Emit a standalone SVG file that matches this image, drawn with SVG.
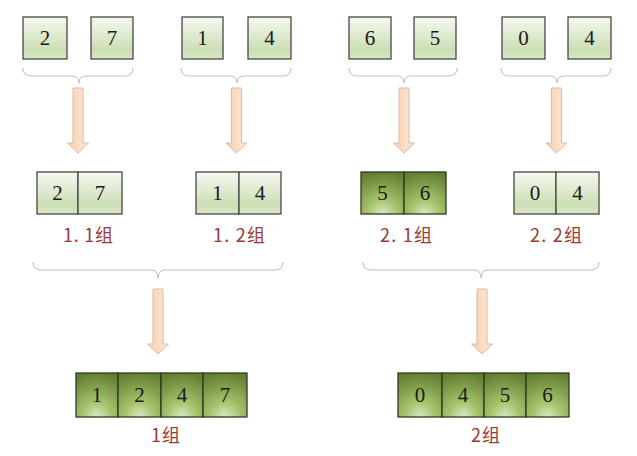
<svg xmlns="http://www.w3.org/2000/svg" width="637" height="456" viewBox="0 0 637 456">
<defs>
<linearGradient id="lg" x1="0" y1="0" x2="0" y2="1">
<stop offset="0" stop-color="#F6F9F1"/>
<stop offset="0.78" stop-color="#CCDEB4"/>
<stop offset="1" stop-color="#D9E7C6"/>
</linearGradient>
<radialGradient id="dg" cx="0.5" cy="1" r="1" fx="0.5" fy="1">
<stop offset="0" stop-color="#DCE8C6"/>
<stop offset="0.35" stop-color="#A6C36C"/>
<stop offset="1" stop-color="#637F32"/>
</radialGradient>
<linearGradient id="ag" x1="0" y1="0" x2="1" y2="0">
<stop offset="0" stop-color="#FBCFAE"/>
<stop offset="1" stop-color="#FFE8D8"/>
</linearGradient>
</defs>
<style>
.l{fill:url(#lg);stroke:#474747;stroke-width:1.3}
.d{fill:url(#dg);stroke:#2f3a22;stroke-width:1.3}
.n{font-family:"Liberation Serif","DejaVu Serif",serif;font-size:21px;fill:#1a1a1a;text-anchor:middle}
.t{font-family:"Noto Sans CJK SC","Noto Sans",sans-serif;font-size:18px;fill:#9B3A33;text-anchor:middle}
.b{fill:none;stroke:#BDBDBD;stroke-width:1}
.a{fill:url(#ag);stroke:#D7BBA8;stroke-width:1}
</style>
<g id="connectors">
<path class="b" d="M23,68 Q23,76 31,76 L72,76 Q79,76 79,83 Q79,76 86,76 L125,76 Q133,76 133,68"/>
<path class="b" d="M181,68 Q181,76 189,76 L230,76 Q237,76 237,83 Q237,76 244,76 L283,76 Q291,76 291,68"/>
<path class="b" d="M349,68 Q349,76 357,76 L397,76 Q404,76 404,83 Q404,76 411,76 L449,76 Q457,76 457,68"/>
<path class="b" d="M501,68 Q501,76 509,76 L550,76 Q557,76 557,83 Q557,76 564,76 L603,76 Q611,76 611,68"/>
<path class="b" d="M33,262 Q33,270 41,270 L151,270 Q158,270 158,278 Q158,270 165,270 L275,270 Q283,270 283,262"/>
<path class="b" d="M363,262 Q363,270 371,270 L474,270 Q481,270 481,278 Q481,270 488,270 L591,270 Q599,270 599,262"/>
<path class="a" d="M73,88 H83 V143 H88.5 L78,153 L67.5,143 H73 Z"/>
<path class="a" d="M231.5,88 H241.5 V143 H247 L236.5,153 L226,143 H231.5 Z"/>
<path class="a" d="M399,88 H409 V143 H414.5 L404,153 L393.5,143 H399 Z"/>
<path class="a" d="M551.5,88 H561.5 V143 H567 L556.5,153 L546,143 H551.5 Z"/>
<path class="a" d="M153,289 H163 V344 H168.5 L158,354 L147.5,344 H153 Z"/>
<path class="a" d="M477,289 H487 V344 H492.5 L482,354 L471.5,344 H477 Z"/>
</g>
<g id="n2"><rect class="l" x="23" y="17" width="44" height="42"/><text class="n" x="45" y="45">2</text></g>
<g id="n7"><rect class="l" x="91" y="17" width="42" height="42"/><text class="n" x="112" y="45">7</text></g>
<g id="n1"><rect class="l" x="182" y="17" width="41" height="42"/><text class="n" x="202.5" y="45">1</text></g>
<g id="n4a"><rect class="l" x="248" y="17" width="43" height="42"/><text class="n" x="269.5" y="45">4</text></g>
<g id="n6"><rect class="l" x="349" y="17" width="42" height="42"/><text class="n" x="370" y="45">6</text></g>
<g id="n5"><rect class="l" x="414" y="17" width="42" height="42"/><text class="n" x="435" y="45">5</text></g>
<g id="n0"><rect class="l" x="502" y="17" width="43" height="42"/><text class="n" x="523.5" y="45">0</text></g>
<g id="n4b"><rect class="l" x="568" y="17" width="43" height="42"/><text class="n" x="589.5" y="45">4</text></g>
<g id="g11">
<rect class="l" x="37" y="172" width="41" height="42"/><rect class="l" x="78" y="172" width="44" height="42"/>
<text class="n" x="57.5" y="200">2</text><text class="n" x="100" y="200">7</text>
<text class="t" x="88" y="242" textLength="50" lengthAdjust="spacing">1. 1组</text>
</g>
<g id="g12">
<rect class="l" x="196" y="172" width="43" height="42"/><rect class="l" x="239" y="172" width="42" height="42"/>
<text class="n" x="217.5" y="200">1</text><text class="n" x="260" y="200">4</text>
<text class="t" x="239" y="242" textLength="52" lengthAdjust="spacing">1. 2组</text>
</g>
<g id="g21">
<rect class="d" x="361" y="172" width="43" height="42"/><rect class="d" x="404" y="172" width="42" height="42"/>
<text class="n" x="382.5" y="200">5</text><text class="n" x="425" y="200">6</text>
<text class="t" x="406" y="242" textLength="52" lengthAdjust="spacing">2. 1组</text>
</g>
<g id="g22">
<rect class="l" x="514" y="172" width="42" height="42"/><rect class="l" x="556" y="172" width="43" height="42"/>
<text class="n" x="535" y="200">0</text><text class="n" x="577.5" y="200">4</text>
<text class="t" x="556" y="242" textLength="52" lengthAdjust="spacing">2. 2组</text>
</g>
<g id="g1">
<rect class="d" x="76" y="373" width="42" height="44"/><rect class="d" x="118" y="373" width="43" height="44"/>
<rect class="d" x="161" y="373" width="42" height="44"/><rect class="d" x="203" y="373" width="44" height="44"/>
<text class="n" x="97" y="402">1</text><text class="n" x="139.5" y="402">2</text>
<text class="n" x="182" y="402">4</text><text class="n" x="225" y="402">7</text>
<text class="t" x="165.5" y="442" textLength="29" lengthAdjust="spacing">1组</text>
</g>
<g id="g2">
<rect class="d" x="398" y="373" width="44" height="44"/><rect class="d" x="442" y="373" width="42" height="44"/>
<rect class="d" x="484" y="373" width="42" height="44"/><rect class="d" x="526" y="373" width="43" height="44"/>
<text class="n" x="420" y="402">0</text><text class="n" x="463" y="402">4</text>
<text class="n" x="505" y="402">5</text><text class="n" x="547.5" y="402">6</text>
<text class="t" x="485.5" y="442" textLength="29" lengthAdjust="spacing">2组</text>
</g>
</svg>
